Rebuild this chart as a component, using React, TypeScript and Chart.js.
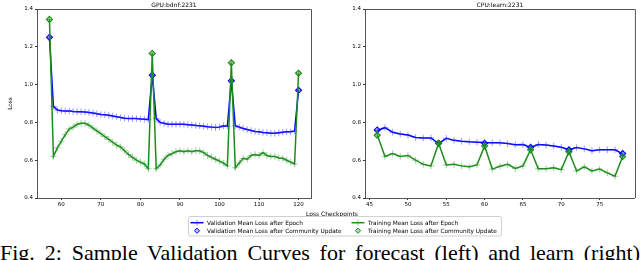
import React, { useEffect, useRef } from "react";
import { Chart, registerables } from "chart.js";
Chart.register(...registerables);

// ---------- data ----------
const gpuEpochs = [57, 58, 59, 60, 61, 62, 63, 64, 65, 66, 67, 68, 69, 70, 71, 72, 73, 74, 75, 76, 77, 78, 79, 80, 81, 82, 83, 84, 85, 86, 87, 88, 89, 90, 91, 92, 93, 94, 95, 96, 97, 98, 99, 100, 101, 102, 103, 104, 105, 106, 107, 108, 109, 110, 111, 112, 113, 114, 115, 116, 117, 118, 119, 120];
const gpuValEpoch = [1.25, 0.885, 0.865, 0.862, 0.86, 0.86, 0.858, 0.857, 0.856, 0.855, 0.853, 0.85, 0.846, 0.842, 0.84, 0.838, 0.834, 0.83, 0.826, 0.822, 0.82, 0.82, 0.82, 0.818, 0.817, 0.815, 1.05, 0.82, 0.8, 0.795, 0.79, 0.79, 0.79, 0.79, 0.79, 0.788, 0.786, 0.784, 0.782, 0.78, 0.777, 0.775, 0.773, 0.775, 0.782, 0.78, 1.02, 0.782, 0.775, 0.768, 0.762, 0.757, 0.752, 0.75, 0.747, 0.745, 0.742, 0.742, 0.745, 0.748, 0.75, 0.75, 0.755, 0.97];
const gpuTrainEpoch = [1.345, 0.62, 0.665, 0.7, 0.735, 0.765, 0.775, 0.79, 0.795, 0.795, 0.785, 0.77, 0.755, 0.74, 0.725, 0.71, 0.695, 0.68, 0.67, 0.65, 0.63, 0.615, 0.6, 0.59, 0.58, 0.555, 1.165, 0.555, 0.575, 0.605, 0.625, 0.635, 0.645, 0.65, 0.645, 0.65, 0.645, 0.65, 0.65, 0.64, 0.625, 0.615, 0.605, 0.595, 0.585, 0.57, 1.115, 0.56, 0.585, 0.61, 0.605, 0.625, 0.63, 0.625, 0.64, 0.625, 0.62, 0.62, 0.612, 0.61, 0.6, 0.59, 0.58, 1.06];
const gpuUpdates = [57, 83, 103, 120];
const gpuValUpdate = [1.25, 1.05, 1.02, 0.97];
const gpuTrainUpdate = [1.345, 1.165, 1.115, 1.06];

const cpuEpochs = [46, 47, 48, 49, 50, 51, 52, 53, 54, 55, 56, 57, 58, 59, 60, 61, 62, 63, 64, 65, 66, 67, 68, 69, 70, 71, 72, 73, 74, 75, 76, 77, 78];
const cpuValEpoch = [0.757, 0.772, 0.748, 0.739, 0.733, 0.72, 0.717, 0.718, 0.688, 0.716, 0.705, 0.7, 0.697, 0.695, 0.693, 0.692, 0.692, 0.688, 0.682, 0.683, 0.668, 0.683, 0.68, 0.675, 0.668, 0.655, 0.667, 0.66, 0.65, 0.655, 0.655, 0.655, 0.633];
const cpuTrainEpoch = [0.735, 0.62, 0.635, 0.62, 0.625, 0.6, 0.578, 0.57, 0.69, 0.575, 0.578, 0.57, 0.565, 0.575, 0.675, 0.553, 0.568, 0.578, 0.556, 0.57, 0.655, 0.555, 0.555, 0.56, 0.55, 0.645, 0.543, 0.565, 0.543, 0.553, 0.533, 0.515, 0.62];
const cpuUpdates = [46, 54, 60, 66, 71, 78];
const cpuValUpdate = [0.76, 0.69, 0.69, 0.668, 0.655, 0.635];
const cpuTrainUpdate = [0.732, 0.69, 0.675, 0.655, 0.645, 0.62];

const gpuXTicks = [60, 70, 80, 90, 100, 110, 120];
const cpuXTicks = [45, 50, 55, 60, 65, 70, 75];
const yTicks = [0.4, 0.6, 0.8, 1.0, 1.2, 1.4];

const gpuTitle = "GPU:bdnf:2231";
const cpuTitle = "CPU:learn:2231";
const xLabel = "Loss Checkpoints";
const yLabel = "Loss";
const legendLabels = [
  "Validation Mean Loss after Epoch",
  "Validation Mean Loss after Community Update",
  "Training Mean Loss after Epoch",
  "Training Mean Loss after Community Update",
];
const caption = "Fig. 2: Sample Validation Curves for forecast (left) and learn (right)";

// ---------- styles ----------
const FONT = "'DejaVu Sans', sans-serif";
const BLUE = "#0000ff";
const BLUE_MARK = "rgba(40,40,255,0.45)";
const BLUE_FILL = "rgba(60,60,255,0.35)";
const GREEN = "#1c8c1c";
const GREEN_MARK = "rgba(40,150,40,0.45)";
const GREEN_FILL = "rgba(40,150,40,0.35)";

function pts(xs: number[], ys: number[]) {
  return xs.map((x, i) => ({ x, y: ys[i] }));
}

function drawCross(ctx: CanvasRenderingContext2D, x: number, y: number, r: number, color: string) {
  ctx.strokeStyle = color;
  ctx.lineWidth = 1;
  ctx.beginPath();
  ctx.moveTo(x - r, y);
  ctx.lineTo(x + r, y);
  ctx.moveTo(x, y - r);
  ctx.lineTo(x, y + r);
  ctx.stroke();
}

function drawDiamond(ctx: CanvasRenderingContext2D, x: number, y: number, r: number, stroke: string, fill: string) {
  ctx.beginPath();
  ctx.moveTo(x, y - r);
  ctx.lineTo(x + r, y);
  ctx.lineTo(x, y + r);
  ctx.lineTo(x - r, y);
  ctx.closePath();
  ctx.fillStyle = fill;
  ctx.fill();
  ctx.strokeStyle = stroke;
  ctx.lineWidth = 1;
  ctx.stroke();
}

function makeDecor(title: string, isLeft: boolean) {
  return {
    id: "decor",
    afterDatasetsDraw(chart: any) {
      const { ctx, chartArea: a } = chart;
      ctx.save();
      ctx.strokeStyle = "#555";
      ctx.lineWidth = 1;
      ctx.beginPath();
      ctx.moveTo(a.left, Math.round(a.top) + 0.5);
      ctx.lineTo(a.right + 0.5, Math.round(a.top) + 0.5);
      ctx.lineTo(Math.round(a.right) + 0.5, a.bottom);
      ctx.stroke();
      ctx.restore();
    },
    afterDraw(chart: any) {
      const { ctx, chartArea: a } = chart;
      ctx.save();
      ctx.fillStyle = "#000";
      ctx.font = `6px ${FONT}`;
      ctx.textAlign = "center";
      ctx.textBaseline = "middle";
      ctx.fillText(title, (a.left + a.right) / 2, 5);
      if (isLeft) {
        // y label
        ctx.save();
        ctx.translate(10, (a.top + a.bottom) / 2);
        ctx.rotate(-Math.PI / 2);
        ctx.font = `5.8px ${FONT}`;
        ctx.fillText(yLabel, 0, 0);
        ctx.restore();
        // x label
        ctx.font = `6px ${FONT}`;
        ctx.fillText(xLabel, 332, 214.5);
        // legend
        ctx.strokeStyle = "#d0d0d0";
        ctx.lineWidth = 1;
        const bx = 188.5, by = 216.5, bw = 313, bh = 19.5, rr = 2;
        ctx.beginPath();
        ctx.moveTo(bx + rr, by);
        ctx.arcTo(bx + bw, by, bx + bw, by + bh, rr);
        ctx.arcTo(bx + bw, by + bh, bx, by + bh, rr);
        ctx.arcTo(bx, by + bh, bx, by, rr);
        ctx.arcTo(bx, by, bx + bw, by, rr);
        ctx.closePath();
        ctx.fillStyle = "rgba(255,255,255,0.8)";
        ctx.fill();
        ctx.stroke();
        const cols = [197, 358];
        const rows = [222.7, 230.7];
        const colors = [
          [BLUE, BLUE_MARK, BLUE_FILL],
          [GREEN, GREEN_MARK, GREEN_FILL],
        ];
        ctx.font = `5.8px ${FONT}`;
        ctx.textAlign = "left";
        for (let c = 0; c < 2; c++) {
          const [line, mark, fill] = colors[c];
          const cx = cols[c];
          // epoch entry
          ctx.strokeStyle = line;
          ctx.lineWidth = 1.5;
          ctx.beginPath();
          ctx.moveTo(cx - 6.5, rows[0]);
          ctx.lineTo(cx + 6.5, rows[0]);
          ctx.stroke();
          drawCross(ctx, cx, rows[0], 3, mark);
          // update entry
          drawDiamond(ctx, cx, rows[1], 2.6, line, fill);
          ctx.fillStyle = "#000";
          ctx.fillText(legendLabels[c * 2], cx + 10, rows[0] + 0.3);
          ctx.fillText(legendLabels[c * 2 + 1], cx + 10, rows[1] + 0.3);
        }
      }
      ctx.restore();
    },
  };
}

function makeConfig(o: {
  epochs: number[];
  valEpoch: number[];
  trainEpoch: number[];
  upd: number[];
  valUpd: number[];
  trainUpd: number[];
  xTicks: number[];
  title: string;
  yWidth: number;
  padRight: number;
  xHeight: number;
  isLeft: boolean;
}): any {
  const first = o.epochs[0];
  const last = o.epochs[o.epochs.length - 1];
  const span = last - first;
  const tickFont = { family: FONT, size: 5.5 };
  return {
    type: "line",
    data: {
      datasets: [
        {
          label: legendLabels[3],
          data: pts(o.upd, o.trainUpd),
          showLine: false,
          pointStyle: "rectRot",
          pointRadius: 3,
          pointBorderWidth: 1.1,
          borderColor: GREEN,
          pointBorderColor: GREEN,
          pointBackgroundColor: GREEN_FILL,
          order: 0,
        },
        {
          label: legendLabels[2],
          data: pts(o.epochs, o.trainEpoch),
          borderColor: GREEN,
          borderWidth: 1.5,
          pointStyle: "cross",
          pointRadius: 3.3,
          pointBorderWidth: 1,
          pointBorderColor: GREEN_MARK,
          fill: false,
          tension: 0,
          order: 1,
        },
        {
          label: legendLabels[1],
          data: pts(o.upd, o.valUpd),
          showLine: false,
          pointStyle: "rectRot",
          pointRadius: 3,
          pointBorderWidth: 1.1,
          borderColor: BLUE,
          pointBorderColor: BLUE,
          pointBackgroundColor: BLUE_FILL,
          order: 2,
        },
        {
          label: legendLabels[0],
          data: pts(o.epochs, o.valEpoch),
          borderColor: BLUE,
          borderWidth: 1.5,
          pointStyle: "cross",
          pointRadius: 3.3,
          pointBorderWidth: 1,
          pointBorderColor: BLUE_MARK,
          fill: false,
          tension: 0,
          order: 3,
        },
      ],
    },
    options: {
      responsive: false,
      animation: false,
      events: [],
      layout: { padding: { left: 0, right: o.padRight, top: 9, bottom: 0 } },
      plugins: {
        legend: { display: false },
        tooltip: { enabled: false },
        title: { display: false },
      },
      scales: {
        x: {
          type: "linear",
          min: first - 0.05 * span,
          max: last + 0.05 * span,
          afterBuildTicks: (s: any) => {
            s.ticks = o.xTicks.map((v) => ({ value: v }));
          },
          afterFit: (s: any) => {
            s.height = o.xHeight;
          },
          grid: {
            display: true,
            drawOnChartArea: false,
            drawTicks: true,
            tickLength: 2,
            color: "#000",
            lineWidth: 0.8,
          },
          border: { display: true, color: "#555", width: 1 },
          ticks: {
            font: tickFont,
            color: "#000",
            padding: 1,
            maxRotation: 0,
            autoSkip: false,
            callback: (v: any) => String(v),
          },
        },
        y: {
          type: "linear",
          min: 0.4,
          max: 1.4,
          afterBuildTicks: (s: any) => {
            s.ticks = yTicks.map((v) => ({ value: v }));
          },
          afterFit: (s: any) => {
            s.width = o.yWidth;
          },
          grid: {
            display: true,
            drawOnChartArea: false,
            drawTicks: true,
            tickLength: 2,
            color: "#000",
            lineWidth: 0.8,
          },
          border: { display: true, color: "#555", width: 1 },
          ticks: {
            font: tickFont,
            color: "#000",
            padding: 2,
            autoSkip: false,
            callback: (v: any) => Number(v).toFixed(1),
          },
        },
      },
    },
    plugins: [makeDecor(o.title, o.isLeft)],
  };
}

export default function App() {
  const leftRef = useRef<HTMLCanvasElement | null>(null);
  const rightRef = useRef<HTMLCanvasElement | null>(null);

  useEffect(() => {
    const left = new Chart(
      leftRef.current as HTMLCanvasElement,
      makeConfig({
        epochs: gpuEpochs,
        valEpoch: gpuValEpoch,
        trainEpoch: gpuTrainEpoch,
        upd: gpuUpdates,
        valUpd: gpuValUpdate,
        trainUpd: gpuTrainUpdate,
        xTicks: gpuXTicks,
        title: gpuTitle,
        yWidth: 37,
        padRight: 329,
        xHeight: 42,
        isLeft: true,
      })
    );
    const right = new Chart(
      rightRef.current as HTMLCanvasElement,
      makeConfig({
        epochs: cpuEpochs,
        valEpoch: cpuValEpoch,
        trainEpoch: cpuTrainEpoch,
        upd: cpuUpdates,
        valUpd: cpuValUpdate,
        trainUpd: cpuTrainUpdate,
        xTicks: cpuXTicks,
        title: cpuTitle,
        yWidth: 45,
        padRight: 3,
        xHeight: 12,
        isLeft: false,
      })
    );
    return () => {
      left.destroy();
      right.destroy();
    };
  }, []);

  return (
    <div
      style={{
        position: "absolute",
        left: 0,
        top: 0,
        width: 640,
        height: 260,
        overflow: "hidden",
        background: "#fff",
      }}
    >
      <canvas
        ref={leftRef}
        width={640}
        height={240}
        style={{ position: "absolute", left: 0, top: 0, width: 640, height: 240 }}
      />
      <canvas
        ref={rightRef}
        width={320}
        height={210}
        style={{ position: "absolute", left: 320, top: 0, width: 320, height: 210 }}
      />
      <div
        style={{
          position: "absolute",
          left: 0,
          top: 242,
          width: 640,
          fontFamily: "'Liberation Serif', 'Times New Roman', serif",
          fontSize: 22,
          lineHeight: "22px",
          whiteSpace: "nowrap",
          textAlign: "justify",
          textAlignLast: "justify",
          color: "#000",
        }}
      >
        {caption}
      </div>
    </div>
  );
}
